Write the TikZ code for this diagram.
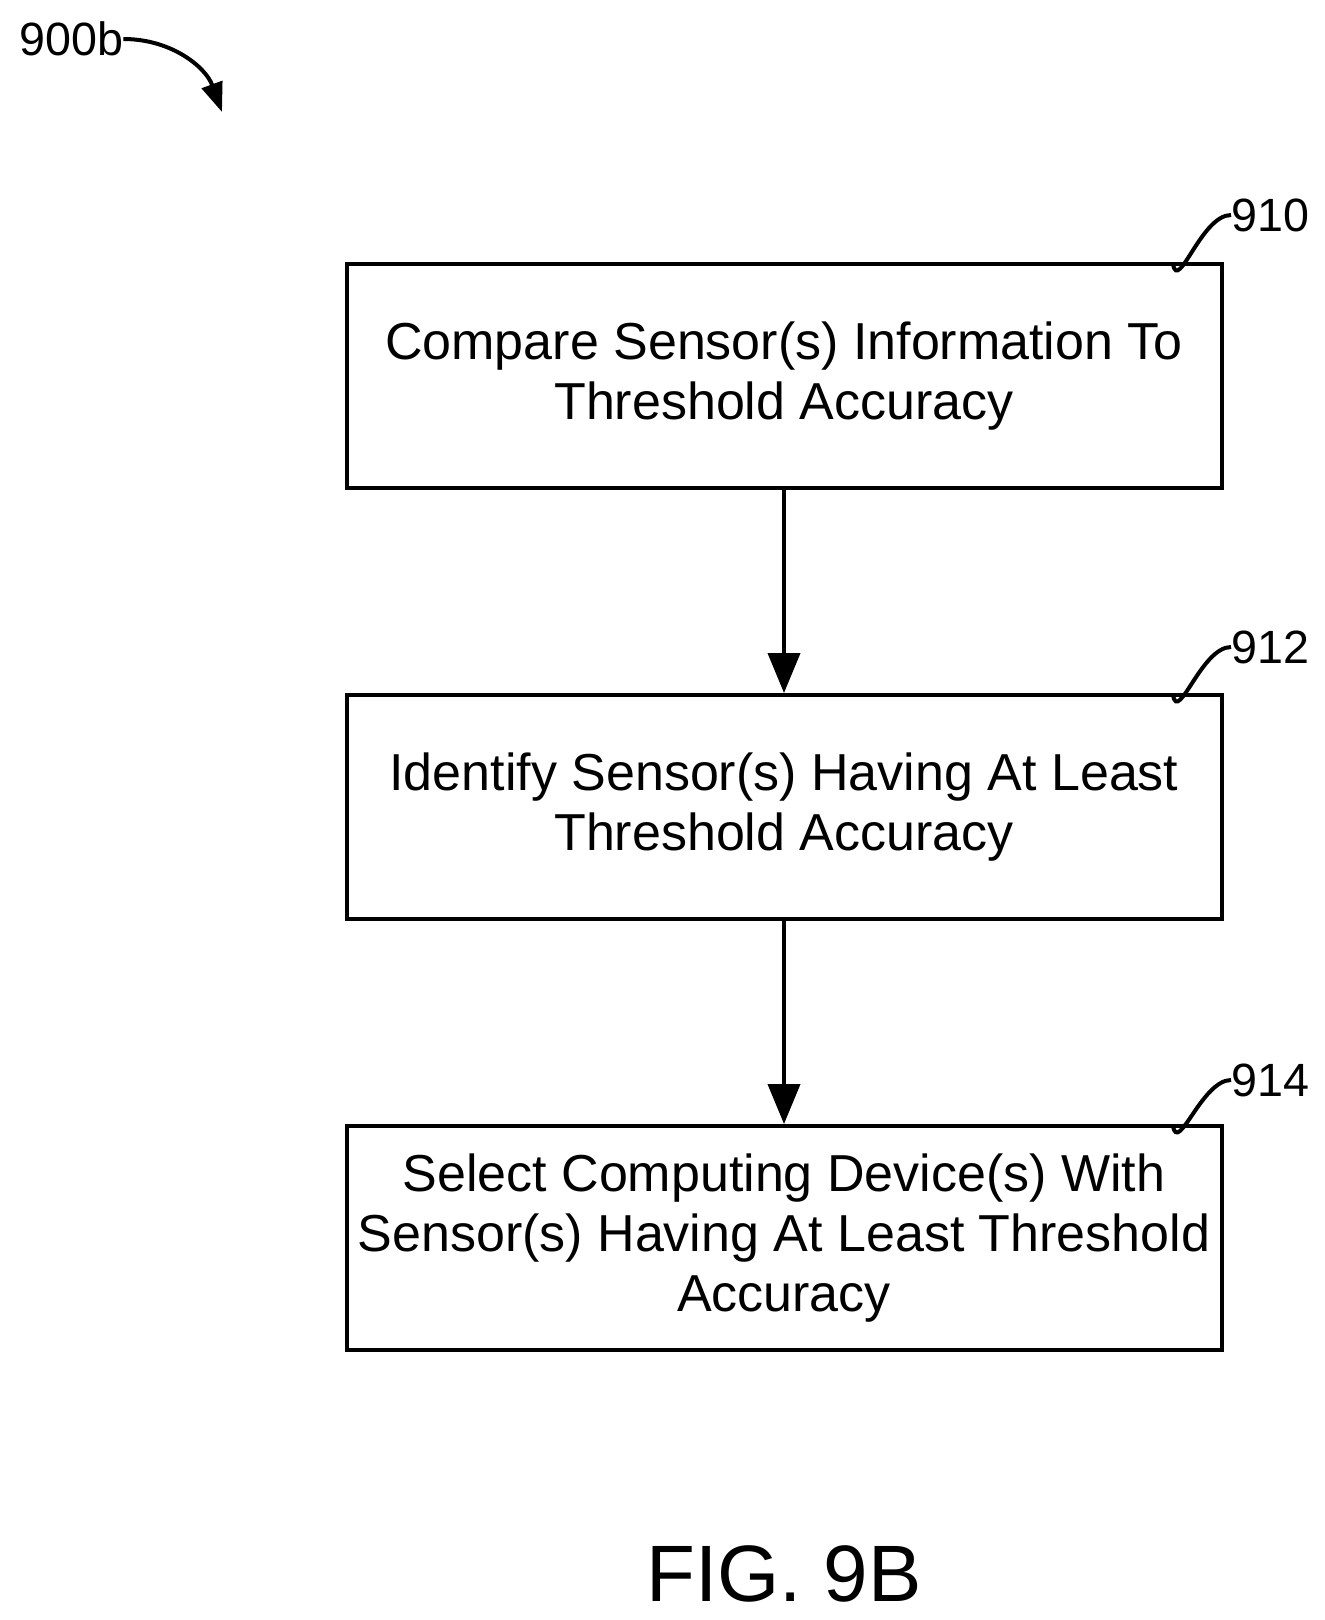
\documentclass[tikz,border=0pt]{standalone}
\usepackage{fontspec}
\setmainfont{Liberation Sans}
\usetikzlibrary{arrows.meta}
\begin{document}
\begin{tikzpicture}[x=0.75pt,y=-0.75pt,
  box/.style={draw,line width=3pt,minimum width=875*0.75pt,minimum height=224*0.75pt,align=center,font=\fontsize{39}{45}\selectfont,inner sep=0pt},
  lbl/.style={anchor=west,font=\fontsize{35}{40}\selectfont,inner sep=0pt},
  conn/.style={line width=3pt,-{Triangle[length=30pt,width=24pt]}},
  lead/.style={line width=3pt}]
\useasboundingbox (0,0) rectangle (1324,1620);
\node[box] (b1) at (784,376) {Compare Sensor(s) Information To\\Threshold Accuracy};
\node[box] (b2) at (784,807) {Identify Sensor(s) Having At Least\\Threshold Accuracy};
\node[box] (b3) at (784,1238) {Select Computing Device(s) With\\Sensor(s) Having At Least Threshold\\Accuracy};
\draw[conn] (b1.south) -- (b2.north);
\draw[conn] (b2.south) -- (b3.north);
\node[lbl] (l1) at (1231,215) {910};
\node[lbl] (l2) at (1231,647) {912};
\node[lbl] (l3) at (1231,1080) {914};
\coordinate (t1) at (1173,264);
\coordinate (t2) at (1173,695);
\coordinate (t3) at (1173,1126);
\draw[lead] (t1) to[out=-80,in=180] (l1.west);
\draw[lead] (t2) to[out=-80,in=180] (l2.west);
\draw[lead] (t3) to[out=-80,in=180] (l3.west);
\node[lbl] (fig) at (19,39) {900b};
\coordinate (fa) at (222,112);
\draw[lead,-{Triangle[length=22pt,width=16pt]}] (fig.east) to[out=0,in=110] (fa);
\node[font=\fontsize{60}{66}\selectfont,inner sep=0pt] (cap) at (784,1574) {FIG. 9B};
\end{tikzpicture}
\end{document}
